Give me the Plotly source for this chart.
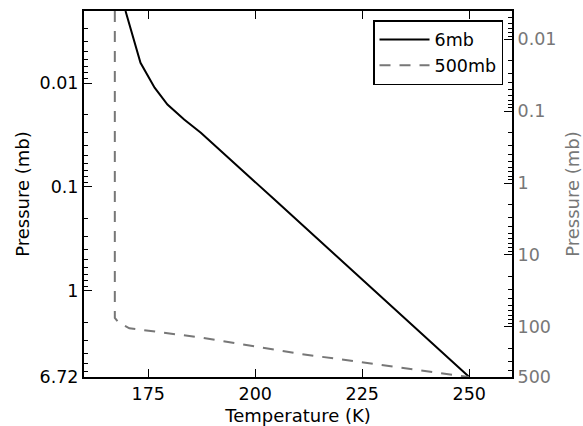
import math
import plotly.graph_objects as go

# ---- data ----
t_6mb = [169.7, 173.2, 176.5, 179.5, 183.4, 187.3, 204.5, 250.0]
p_6mb = [0.00203, 0.0064, 0.0111, 0.0161, 0.0224, 0.0301, 0.132, 6.72]

t_500mb = [167.2, 167.2, 168.0, 169.3, 170.6, 187.3, 210.7, 250.0]
p_500mb = [0.00404, 75.0, 86.0, 94.0, 105.0, 141.0, 239.0, 500.0]

x_ticks = [175, 200, 225, 250]
left_ticks = [0.01, 0.1, 1, 6.72]
left_text = ["0.01", "0.1", "1", "6.72"]
right_ticks = [0.01, 0.1, 1, 10, 100, 500]
right_text = ["0.01", "0.1", "1", "10", "100", "500"]

left_range = (6.72, 0.00203)
right_range = (500.0, 0.00404)

def minors(lo, hi):
    out = []
    d = 1e-4
    while d < hi * 10:
        for m in range(2, 10):
            v = m * d
            if lo < v < hi:
                out.append(v)
        d *= 10
    return out

GRAY = "#777777"
FONT = dict(family="DejaVu Sans", size=17.5, color="black")
TFONT = 18

fig = go.Figure()
fig.add_trace(go.Scatter(x=t_6mb, y=p_6mb, mode="lines", name="6mb",
                         line=dict(color="black", width=2), yaxis="y"))
fig.add_trace(go.Scatter(x=t_500mb, y=p_500mb, mode="lines", name="500mb",
                         line=dict(color=GRAY, width=2, dash="11px,9px"), yaxis="y2"))

fig.update_layout(
    width=583, height=426,
    margin=dict(l=84, r=71, t=11, b=49),
    paper_bgcolor="white", plot_bgcolor="white",
    font=FONT,
    showlegend=True,
    legend=dict(x=0.979, y=0.975, xanchor="right", yanchor="top",
                bordercolor="black", borderwidth=1.5, bgcolor="white",
                itemwidth=50,
                font=dict(family="DejaVu Sans", size=17.5)),
    xaxis=dict(range=[160, 260], tickvals=x_ticks, ticks="inside", ticklen=8,
               tickwidth=1, tickcolor="black", showline=True, linecolor="black",
               linewidth=2, mirror="ticks", showgrid=False, zeroline=False,
               automargin=False,
               title=dict(text="Temperature (K)", standoff=10,
                          font=dict(family="DejaVu Sans", size=TFONT))),
    yaxis=dict(type="log", range=[math.log10(left_range[0]), math.log10(left_range[1])],
               tickvals=left_ticks, ticktext=left_text, ticks="inside", ticklen=8,
               tickcolor="black", showline=True, linecolor="black", linewidth=2,
               showgrid=False, zeroline=False, automargin=False,
               minor=dict(tickvals=minors(*sorted(left_range)), ticks="inside",
                          ticklen=4, tickcolor="black", showgrid=False),
               title=dict(text="Pressure (mb)", standoff=5,
                          font=dict(family="DejaVu Sans", size=TFONT))),
    yaxis2=dict(type="log", overlaying="y", side="right",
                range=[math.log10(right_range[0]), math.log10(right_range[1])],
                tickvals=right_ticks, ticktext=right_text, ticks="inside", ticklen=8,
                tickcolor="black", showline=True, linecolor="black", linewidth=2,
                showgrid=False, zeroline=False, automargin=False,
                tickfont=dict(color=GRAY),
                minor=dict(tickvals=minors(*sorted(right_range)), ticks="inside",
                           ticklen=4, tickcolor="black", showgrid=False),
                title=dict(text="Pressure (mb)",
                           font=dict(family="DejaVu Sans", color=GRAY, size=TFONT),
                           standoff=12)),
)

fig.write_html("out.html")
